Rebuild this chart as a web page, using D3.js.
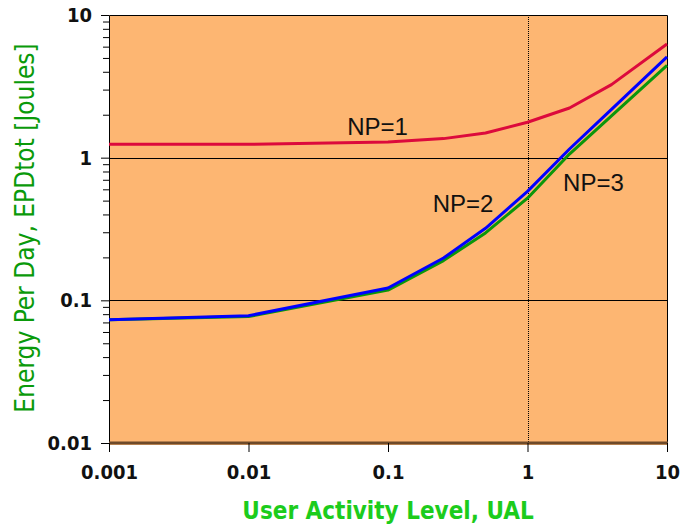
<!DOCTYPE html>
<html>
<head>
<meta charset="utf-8">
<script src="https://cdn.jsdelivr.net/npm/d3@7"></script>
<style>
  body { margin: 0; background: #fff; }
  svg { display: block; }
</style>
</head>
<body>
<div id="chart"></div>
<script>
// user activity levels (x) and energy per day per NP setting (y, Joules)
const ual = [0.001, 0.01, 0.1, 0.25, 0.5, 1, 2, 4, 10];
const np1 = [1.24, 1.24, 1.29, 1.36, 1.49, 1.77, 2.23, 3.25, 6.26];
const np2 = [0.073, 0.078, 0.122, 0.198, 0.32, 0.58, 1.15, 2.18, 5.08];
const np3 = [0.073, 0.077, 0.118, 0.19, 0.297, 0.52, 1.06, 1.96, 4.43];

const xTicks = [0.001, 0.01, 0.1, 1, 10];
const xTickLabels = ["0.001", "0.01", "0.1", "1", "10"];
const yTicks = [0.01, 0.1, 1, 10];
const yTickLabels = ["0.01", "0.1", "1", "10"];

const seriesNames = ["NP=1", "NP=3", "NP=2"];
const seriesValues = [np1, np3, np2];
const seriesColors = ["#dc0a3c", "#0a960a", "#0000ff"];

// label anchors in data units (left edge, baseline)
const labelNames = ["NP=1", "NP=2", "NP=3"];
const labelX = [0.051, 0.209, 1.8];
const labelY = [1.44, 0.418, 0.583];

const width = 683, height = 529;
const plot = { left: 109, right: 667, top: 15, bottom: 443 };

const svg = d3.select("#chart").append("svg")
    .attr("width", width)
    .attr("height", height);

const x = d3.scaleLog().domain([0.001, 10]).range([plot.left, plot.right]);
const y = d3.scaleLog().domain([0.01, 10]).range([plot.bottom, plot.top]);

const tickFont = "'DejaVu Sans Condensed', 'DejaVu Sans', sans-serif";

// background
svg.append("rect")
    .attr("x", plot.left).attr("y", plot.top)
    .attr("width", plot.right - plot.left)
    .attr("height", plot.bottom - plot.top + 2)
    .attr("fill", "#fdb672");

// horizontal grid lines at 0.1 and 1
svg.append("g")
    .selectAll("line")
    .data([0.1, 1])
    .join("line")
    .attr("x1", plot.left).attr("x2", plot.right)
    .attr("y1", d => Math.round(y(d)) + 0.5).attr("y2", d => Math.round(y(d)) + 0.5)
    .attr("stroke", "#000").attr("stroke-width", 1);

// dotted reference at UAL = 1
svg.append("line")
    .attr("x1", Math.round(x(1)) + 0.5).attr("x2", Math.round(x(1)) + 0.5)
    .attr("y1", plot.top).attr("y2", plot.bottom)
    .attr("stroke", "#000").attr("stroke-width", 1)
    .attr("stroke-dasharray", "1,1");

// frame: top, right, left
svg.append("path")
    .attr("d", `M${plot.left + 0.5},${plot.bottom}V${plot.top + 0.5}H${plot.right + 0.5}V${plot.bottom}`)
    .attr("fill", "none").attr("stroke", "#000").attr("stroke-width", 1);

// thick bottom edge
svg.append("line")
    .attr("x1", plot.left).attr("x2", plot.right + 1)
    .attr("y1", plot.bottom).attr("y2", plot.bottom)
    .attr("stroke", "#6e4a2a").attr("stroke-width", 3);

// curves
const line = d3.line()
    .x((d, i) => x(ual[i]))
    .y(d => y(d));

svg.append("g")
    .selectAll("path")
    .data(seriesValues)
    .join("path")
    .attr("d", line)
    .attr("fill", "none")
    .attr("stroke", (d, i) => seriesColors[i])
    .attr("stroke-width", 3)
    .attr("stroke-linejoin", "round");

// y axis with minor ticks
const yMinor = [];
yTicks.slice(0, -1).forEach(t => {
    for (let k = 2; k <= 9; k++) yMinor.push(t * k);
});

const yAxisG = svg.append("g")
    .attr("transform", `translate(${plot.left},0)`)
    .call(d3.axisLeft(y)
        .tickValues(yTicks)
        .tickFormat((d, i) => yTickLabels[i])
        .tickSize(8)
        .tickPadding(9));
yAxisG.select(".domain").remove();

svg.append("g")
    .attr("transform", `translate(${plot.left},0)`)
    .call(d3.axisLeft(y).tickValues(yMinor).tickFormat("").tickSize(6))
    .select(".domain").remove();

// x axis
const xAxisG = svg.append("g")
    .attr("transform", `translate(0,${plot.bottom})`)
    .call(d3.axisBottom(x)
        .tickValues(xTicks)
        .tickFormat((d, i) => xTickLabels[i])
        .tickSize(9)
        .tickPadding(13));
xAxisG.select(".domain").remove();

svg.selectAll(".tick text")
    .attr("font-family", tickFont)
    .attr("font-weight", "bold")
    .attr("font-size", 20)
    .attr("fill", "#111");
svg.selectAll(".tick line").attr("stroke", "#000");

// series labels
svg.append("g")
    .selectAll("text")
    .data(labelNames)
    .join("text")
    .attr("x", (d, i) => x(labelX[i]))
    .attr("y", (d, i) => y(labelY[i]))
    .attr("font-family", "'Liberation Sans', Arial, sans-serif")
    .attr("font-size", 24)
    .attr("fill", "#111")
    .text(d => d);

// axis titles
svg.append("text")
    .attr("x", 388).attr("y", 519)
    .attr("text-anchor", "middle")
    .attr("font-family", tickFont)
    .attr("font-weight", "bold")
    .attr("font-size", 24)
    .attr("fill", "#1ccc1c")
    .text("User Activity Level, UAL");

svg.append("text")
    .attr("transform", "translate(34,228) rotate(-90)")
    .attr("text-anchor", "middle")
    .attr("font-family", tickFont)
    .attr("font-size", 26)
    .attr("fill", "#0a9a0a")
    .text("Energy Per Day, EPDtot [Joules]");
</script>
</body>
</html>
